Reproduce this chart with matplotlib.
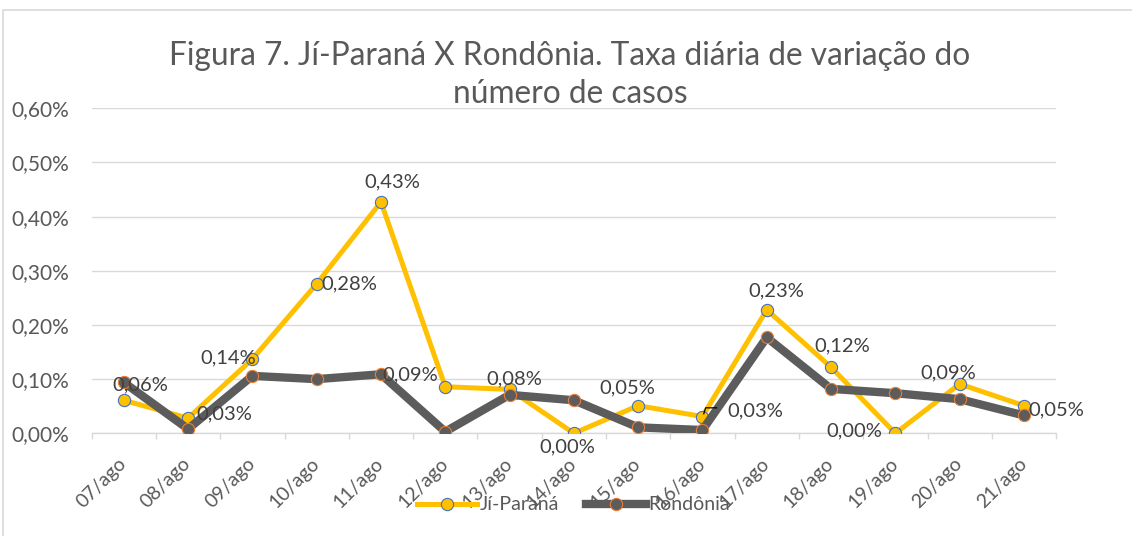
import matplotlib
matplotlib.use("Agg")
import matplotlib.pyplot as plt
from matplotlib.patches import Rectangle
from matplotlib.ticker import FixedLocator
from matplotlib.transforms import ScaledTranslation

plt.rcParams['font.family'] = ['Lato', 'DejaVu Sans']

# data (percent)
dates = ['07/ago', '08/ago', '09/ago', '10/ago', '11/ago', '12/ago', '13/ago', '14/ago',
         '15/ago', '16/ago', '17/ago', '18/ago', '19/ago', '20/ago', '21/ago']
ji_parana = [0.061, 0.028, 0.137, 0.276, 0.427, 0.086, 0.081, 0.000,
             0.051, 0.031, 0.228, 0.122, 0.000, 0.091, 0.051]
rondonia = [0.094, 0.008, 0.106, 0.100, 0.109, 0.003, 0.071, 0.061,
            0.011, 0.006, 0.177, 0.082, 0.074, 0.063, 0.033]
ji_labels = ['0,06%', '0,03%', '0,14%', '0,28%', '0,43%', '0,09%', '0,08%', '0,00%',
             '0,05%', '0,03%', '0,23%', '0,12%', '0,00%', '0,09%', '0,05%']
y_ticks = [0.0, 0.1, 0.2, 0.3, 0.4, 0.5, 0.6]

# label offsets in pixels (dx, dy up)
label_off = [(17, 15), (36, 4), (-24, 1), (33, 0), (11, 20), (-35, 12), (5, 11), (-7, -14),
             (-11, 18), (53, 6), (10, 19), (11, 21), (-41, 2), (-11, 11), (32, -4)]

YELLOW = '#FFC000'
GREY = '#5c5c5c'
GRID = '#d9d9d9'
TXT = '#595959'

fig = plt.figure(figsize=(11.32, 5.36), dpi=100)
ax = fig.add_axes([91.6 / 1132, 1 - 433.3 / 536, 964.5 / 1132, 325 / 536])

x = list(range(len(dates)))
ax.plot(x, ji_parana, color=YELLOW, lw=3.6, marker='o', ms=8.8, mfc=YELLOW,
        mec='#4472C4', mew=0.8, label='Jí-Paraná', zorder=3, solid_joinstyle='round')
ax.plot(x, rondonia, color=GREY, lw=6.0, marker='o', ms=8.8, mfc=GREY,
        mec='#ED7D31', mew=0.8, label='Rondônia', zorder=4, solid_joinstyle='round')

for i, (v, lab) in enumerate(zip(ji_parana, ji_labels)):
    dx, dy = label_off[i]
    ax.annotate(lab, (i, v), xytext=(dx * 0.72, dy * 0.72), textcoords='offset points',
                ha='center', va='center', fontsize=14.5, color='#404040', zorder=6)

# leader line at 16/ago
ax.plot([9.02, 9.05, 9.22], [ji_parana[9] + 0.005, ji_parana[9] + 0.016, ji_parana[9] + 0.016],
        color='black', lw=0.9, zorder=6)

ax.set_xlim(-0.5, len(dates) - 0.5)
ax.set_ylim(0, 0.6)
ax.set_yticks(y_ticks)
ax.set_yticklabels([('%.2f%%' % t).replace('.', ',') for t in y_ticks])
ax.set_xticks(x)
ax.set_xticklabels(dates, rotation=45, ha='right', va='center', rotation_mode='anchor')
ax.xaxis.set_minor_locator(FixedLocator([i - 0.5 for i in range(len(dates) + 1)]))
shift = ScaledTranslation(5 / 100, 0, fig.dpi_scale_trans)
for lbl in ax.get_xticklabels():
    lbl.set_transform(lbl.get_transform() + shift)

ax.tick_params(axis='y', length=0, pad=16.5, labelsize=15, labelcolor=TXT)
ax.tick_params(axis='x', which='major', length=0, pad=20, labelsize=14, labelcolor=TXT)
ax.tick_params(axis='x', which='minor', length=4.5, width=1, color=GRID)

ax.grid(axis='y', color=GRID, lw=1)
ax.set_axisbelow(True)
for s in ['top', 'right', 'left']:
    ax.spines[s].set_visible(False)
ax.spines['bottom'].set_color(GRID)
ax.spines['bottom'].set_linewidth(1)

fig.text(570 / 1132, 1 - 75 / 536,
         'Figura 7. Jí-Paraná X Rondônia. Taxa diária de variação do\nnúmero de casos',
         ha='center', va='center', fontsize=22.8, color=TXT, linespacing=1.3)

leg = fig.legend(loc='center', bbox_to_anchor=(573.5 / 1132, 1 - 505 / 536), ncol=2,
                 frameon=False, fontsize=14, handlelength=3.1, handletextpad=0.1,
                 columnspacing=1.4, labelcolor=TXT)

fig.patches.append(Rectangle((3 / 1132, -0.1), 2, 1 - 10 / 536 + 0.1,
                             transform=fig.transFigure, fill=False, ec=GRID, lw=1.2))

fig.savefig('out.png', dpi=100, facecolor='white')
